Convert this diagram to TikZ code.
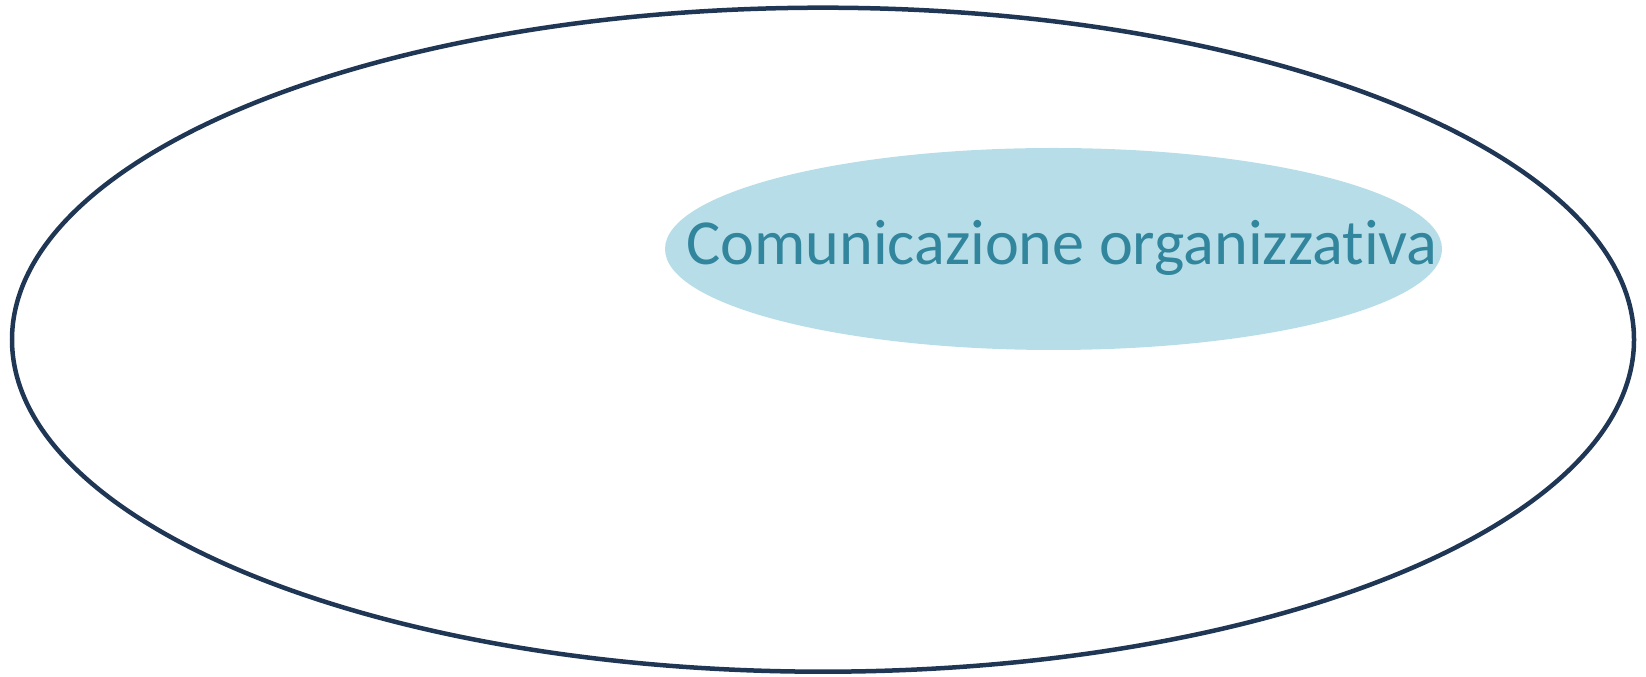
\documentclass[tikz,border=0pt]{standalone}
\usepackage{xcolor}
\usepackage{fontspec}
\setmainfont{Carlito}[RawFeature={-liga}]
\usepackage{tikz}
\usetikzlibrary{shapes.geometric}
\definecolor{contorno}{HTML}{1F3654}
\definecolor{acqua}{HTML}{B7DEE8}
\definecolor{testoacqua}{HTML}{31859C}

\begin{document}
\begin{tikzpicture}[x=1pt, y=1pt,
		outer/.style={draw=contorno, line width=4.5pt, ellipse, minimum width=1622pt, minimum height=664pt, inner sep=0pt},
		inner/.style={fill=acqua, ellipse, minimum width=777pt, minimum height=202pt, inner sep=0pt}]
	\useasboundingbox (0,0) rectangle (1646,677);
	\node[outer] (ambiente) at (823,337.3) {};
	\node[inner] (comunicazione) at (1053.5,428) {};
	\node[text=testoacqua, font=\fontsize{64.2}{70}\selectfont, anchor=base, inner sep=0pt] (testo) at (1062,412.5) {Comunicazione organizzativa};
\end{tikzpicture}
\end{document}
